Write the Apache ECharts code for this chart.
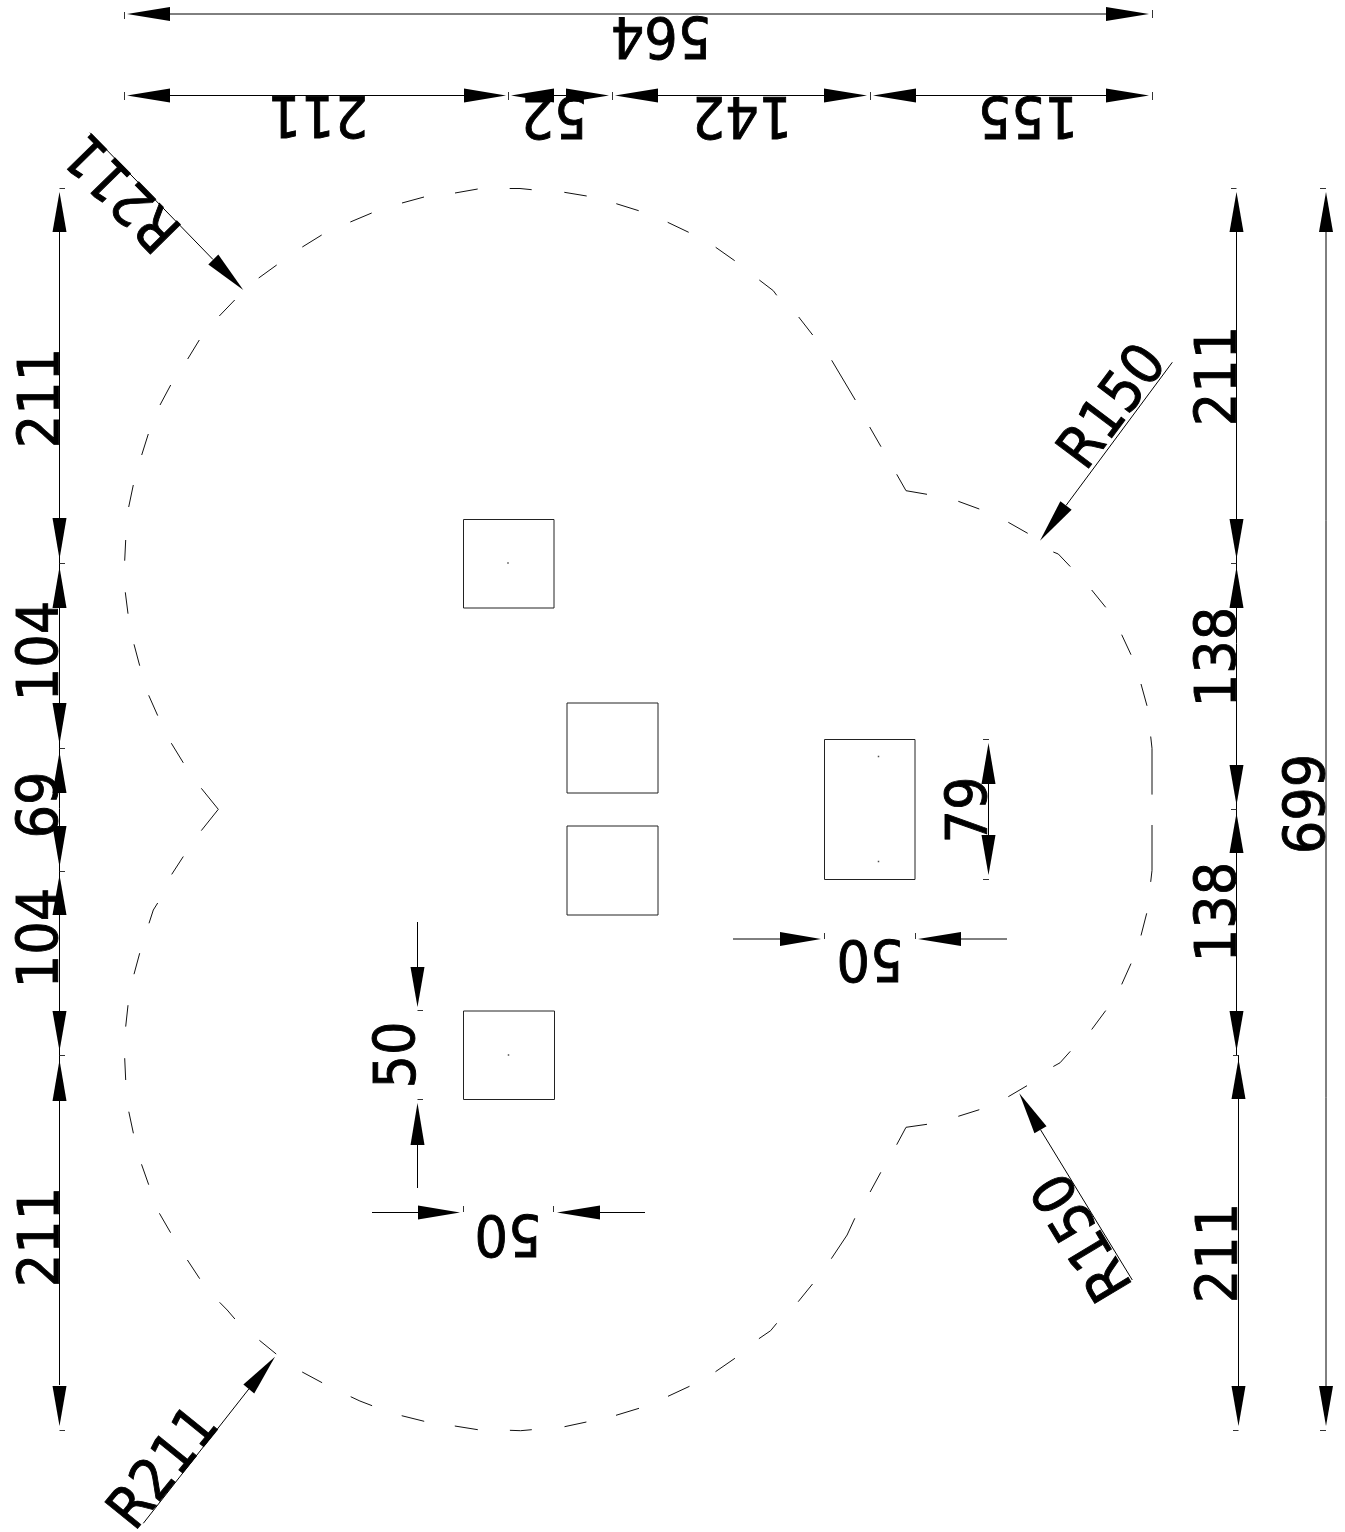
<!DOCTYPE html>
<html><head><meta charset="utf-8">
<style>html,body{margin:0;padding:0;background:#fff;overflow:hidden}#c{width:1345px;height:1532px}</style>
<script src="https://cdn.jsdelivr.net/npm/echarts@6/dist/echarts.min.js"></script>
</head><body><div id="c"></div>
<script>
// Drawing-space readings (x, y) of the plan outline, one polyline per dash
const outlineDashes = [
[[125.7,540],[124.7,560.7]],[[128.7,507],[133.3,485]],[[141.7,455],[148.3,434]],[[160,405],[170.7,385]],
[[187.7,359],[199.3,340]],[[219.3,316],[234.7,300]],[[258.7,278],[276.7,265]],[[302.3,247],[321.7,235]],
[[350.3,222],[371.7,213]],[[402,203],[424,197]],[[455,193],[477.7,189]],[[509.7,188.5],[520,188.5],[531.7,189.7]],
[[564.3,192.3],[586.7,196]],[[616.3,203.7],[638.7,210.7]],[[667.7,222.3],[688.7,232.3]],[[715.7,247.3],[734.7,260.7]],
[[759.3,280],[773.3,290.7],[776.7,295.3]],[[798.7,317],[812.7,335]],[[831.7,360.3],[855.3,400]],[[869.7,427],[881,446.7]],
[[896.7,474.3],[906,490.7],[927,494.3]],[[958.3,501.3],[979.3,509]],[[1008.3,522.3],[1027.7,533.3]],
[[1053.3,552],[1058.3,554],[1070.3,566.6]],[[1091.7,590],[1105.7,607.3]],[[1121.7,634.7],[1131,654.7]],[[1141,684],[1147,705.8]],
[[1150.7,736.5],[1152,748.3],[1152,794.6]],[[1152,825],[1152,870.4],[1150.7,881.9]],[[1146.7,913.3],[1141,935.5]],
[[1131,963.6],[1121.7,984.4]],[[1105.7,1010.6],[1091.7,1029.5]],[[1070.3,1051.3],[1060,1062.8],[1053.3,1066.5]],
[[1027,1085.7],[1008.3,1096.7]],[[979.3,1109.7],[958.3,1116.3]],[[927,1124.3],[906,1127.3],[896.7,1144.7]],
[[880.8,1172.3],[870.1,1192]],[[854.8,1218.3],[847.1,1235],[831.3,1258.7]],[[812.5,1284],[798.2,1301.7]],
[[776.7,1323.3],[770.6,1330.7],[758.9,1338.7]],[[734.9,1358.3],[715.5,1371.7]],[[689.5,1386.3],[668,1396.3]],
[[639,1408.3],[616,1415.3]],[[586.4,1422],[564.5,1426.7]],[[531.8,1429.7],[520.6,1430.7],[509.9,1430.3]],
[[477.8,1429.7],[454.8,1426]],[[424.2,1421.3],[401.7,1415.7]],[[372.1,1405.7],[359.9,1401],[350.7,1396.7]],
[[322.1,1382.7],[302.2,1372]],[[276.2,1354],[259.4,1340.3]],[[234.9,1319],[227.2,1310],[219.6,1302.3]],
[[199.7,1278.7],[187.4,1260]],[[170.6,1232.7],[159.4,1213.3]],[[148.7,1184.7],[141.5,1164.3]],[[133.4,1133.3],[128.8,1111.7]],
[[125.7,1080],[124.7,1058.2]],[[125.7,1026.6],[128,1005.2]],[[134,974.2],[139.7,953.2]],[[149,923.3],[153.3,910],[157.7,903]],
[[171.7,874.4],[183.3,856.5]],[[201.3,830.6],[218.3,809.3],[201.3,788.3]],[[183.3,762.8],[171.3,743.2]],
[[157.7,715.6],[148.7,695.3]],[[139.7,665.7],[134,644.3]],[[128,613.7],[125.3,592.3]]
];
// x0, y0, x1, y1 of the rectangles
const openings = [[463.5,519.5,554,608],[567,703,658,793],[567,826,658,915],[463.5,1011,554.5,1099.5],[824.5,739.5,915,879.5]];
const centreDots = [[508,563],[508.5,1055],[878.5,756.5],[878.5,861.5]];
// dimension lines
const dimLines = [
[[170,14],[1106,14]],[[170,95.5],[464,95.5]],[[554,95.5],[566,95.5]],[[658,95.5],[824,95.5]],[[916,95.5],[1106,95.5]],
[[59.5,232],[59.5,1385]],[[1236.5,232],[1236.5,1055]],[[1238.5,1055],[1238.5,1386]],[[1326,232],[1326,1386]],
[[988.5,784],[988.5,835]],[[733,939],[780,939]],[[961,939],[1007,939]],
[[372,1212.5],[418,1212.5]],[[600,1212.5],[645,1212.5]],[[417.5,922],[417.5,967]],[[417.5,1145],[417.5,1188]],
[[90,132.7],[213,259.5]],[[1172.3,362.3],[1066,505.5]],[[1132.3,1280],[1040.5,1129.7]],[[143.3,1523.3],[248.8,1389]]
];
const extTicks = [
[[124.5,12],[124.5,19]],[[1152.5,10],[1152.5,18]],[[124.5,92],[124.5,100]],[[508.5,92],[508.5,100]],[[612.5,92],[612.5,100]],[[870.5,92],[870.5,100]],[[1152.5,92],[1152.5,100]],
[[59.5,188.5],[65,188.5]],[[59.5,563.5],[65,563.5]],[[59.5,748.5],[65,748.5]],[[59.5,871.5],[65,871.5]],[[59.5,1055.5],[65,1055.5]],[[59.5,1430.5],[65,1430.5]],
[[1231,188.5],[1236.5,188.5]],[[1231,563.5],[1236.5,563.5]],[[1231,809.5],[1236.5,809.5]],[[1233,1055.5],[1238.5,1055.5]],[[1233,1430.5],[1238.5,1430.5]],
[[1320,188.5],[1326,188.5]],[[1320,1430.5],[1326,1430.5]],
[[983,739.5],[989,739.5]],[[983,879.5],[989,879.5]],
[[824.5,933],[824.5,939]],[[915.5,933],[915.5,939]],[[463.5,1206],[463.5,1212]],[[553.5,1206],[553.5,1212]],
[[417.5,1010.5],[423,1010.5]],[[417.5,1099.5],[423,1099.5]]
];
// tipX, tipY, tailX, tailY
const arrowHeads = [
[127,14,170,14],[1149,14,1106,14],
[127,95.5,170,95.5],[506,95.5,464,95.5],[511,95.5,554,95.5],[609,95.5,566,95.5],[615,95.5,658,95.5],[867,95.5,824,95.5],[873,95.5,916,95.5],[1149,95.5,1106,95.5],
[59.5,192,59.5,232],[59.5,559,59.5,518],[59.5,567,59.5,608],[59.5,744,59.5,703],[59.5,752,59.5,793],[59.5,867,59.5,826],[59.5,875,59.5,915],[59.5,1051,59.5,1011],[59.5,1060,59.5,1101],[59.5,1426,59.5,1386],
[1236.5,192,1236.5,232],[1236.5,559,1236.5,519],[1236.5,567,1236.5,608],[1236.5,805,1236.5,765],[1236.5,813,1236.5,853],[1236.5,1051,1236.5,1011],[1238.5,1059,1238.5,1099],[1238.5,1426,1238.5,1386],
[1326,192,1326,232],[1326,1426,1326,1386],
[988.5,743,988.5,784],[988.5,875,988.5,835],
[821,939,780,939],[918,939,961,939],[460,1212.5,418,1212.5],[557,1212.5,600,1212.5],[417.5,1007,417.5,967],[417.5,1103,417.5,1145],
[243.3,290,213.3,259.5],[1040,540.7,1066,505.5],[1019.3,1093.3,1040.5,1129.7],[275,1356.7,248.8,1389]
];
const labelTexts  = ['564','211','52','142','155','211','104','69','104','211','211','138','138','211','699','79','50','50','50','R211','R150','R150','R211'];
const labelX      = [661,318,554,742,1028,37,36,36,36,37,1214,1214,1214,1215,1303,965,870,508,393,120,1109,1079,160];
const labelY      = [39,118,119,119,119,398,651,805,938,1237,376,657,912,1253,804,810,962,1237,1055,195,404,1239,1465];
const labelAngle  = [180,180,180,180,180,90,90,90,90,90,90,90,90,90,90,90,180,180,90,134.5,53,121,51];

function flatten(lines){const out=[];lines.forEach(l=>{l.forEach(p=>out.push(p));out.push(['-','-']);});return out;}
const rectLines = openings.map(r=>[[r[0],r[1]],[r[2],r[1]],[r[2],r[3]],[r[0],r[3]],[r[0],r[1]]]);
const lineSeries=(name,lines,w,color)=>({name,type:'line',data:flatten(lines),showSymbol:false,symbol:'none',connectNulls:false,silent:true,
  animation:false,lineStyle:{width:w,color,cap:'butt'},clip:false,z:2});

const chart=echarts.init(document.getElementById('c'),null,{renderer:'canvas',devicePixelRatio:1});
chart.setOption({
  animation:false,backgroundColor:'#fff',
  grid:{left:0,right:0,top:0,bottom:0,containLabel:false},
  xAxis:{type:'value',min:0,max:1345,show:false},
  yAxis:{type:'value',min:0,max:1532,inverse:true,show:false},
  tooltip:{show:false},
  series:[
    lineSeries('outline',outlineDashes,1,'#111'),
    lineSeries('openings',rectLines,1,'#222'),
    lineSeries('dimensions',dimLines,1,'#000'),
    lineSeries('extensions',extTicks,1,'#333'),
    {name:'centres',type:'scatter',data:centreDots,symbol:'rect',symbolSize:1.5,itemStyle:{color:'#222'},silent:true,animation:false},
    {name:'arrows',type:'custom',coordinateSystem:'cartesian2d',data:arrowHeads,silent:true,animation:false,z:3,
      renderItem:(p,api)=>{
        const a=api.coord([api.value(0),api.value(1)]),b=api.coord([api.value(2),api.value(3)]);
        const dx=b[0]-a[0],dy=b[1]-a[1],L=Math.hypot(dx,dy),nx=-dy/L*7,ny=dx/L*7;
        return {type:'polygon',shape:{points:[a,[b[0]+nx,b[1]+ny],[b[0]-nx,b[1]-ny]]},style:{fill:'#000'}};
      }},
    {name:'labels',type:'custom',coordinateSystem:'cartesian2d',
      data:labelTexts.map((t,i)=>[labelX[i],labelY[i],labelAngle[i],i]),silent:true,animation:false,z:4,
      renderItem:(p,api)=>{
        const c=api.coord([api.value(0),api.value(1)]);
        return {type:'text',x:c[0],y:c[1],rotation:api.value(2)*Math.PI/180,scaleX:0.85,scaleY:0.93,originX:0,originY:0,
          style:{text:labelTexts[api.value(3)],x:0,y:8,font:'62px "DejaVu Sans"',fill:'#000',stroke:'#000',lineWidth:1,align:'center',verticalAlign:'middle'}};
      }}
  ]
});
</script></body></html>
